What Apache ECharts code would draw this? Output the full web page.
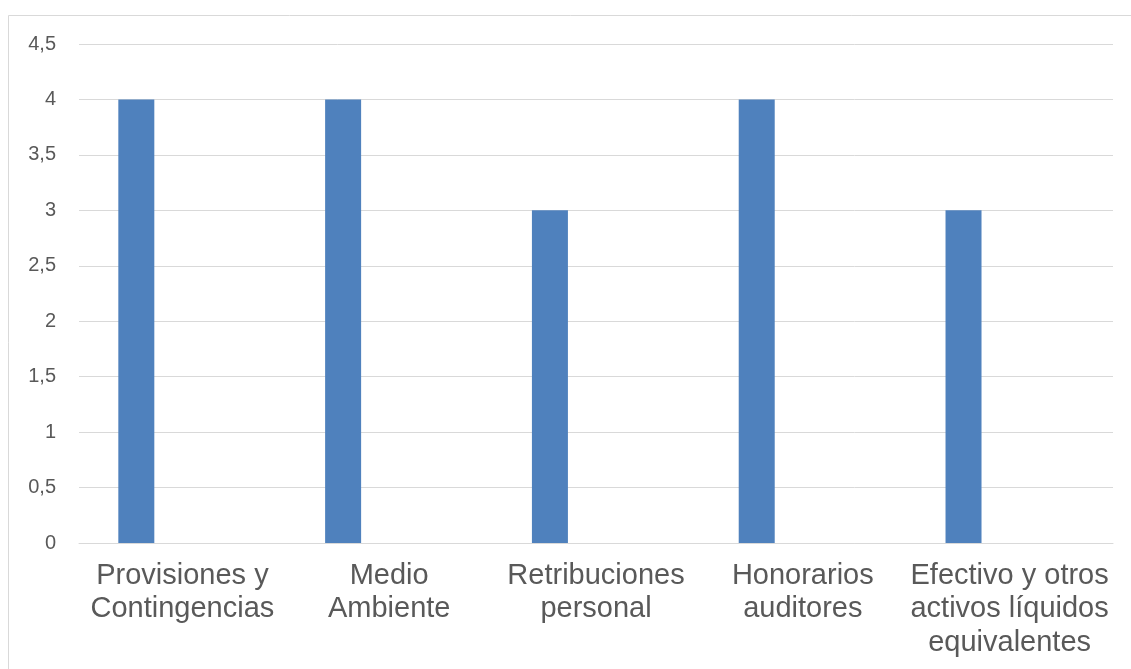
<!DOCTYPE html>
<html>
<head>
<meta charset="utf-8">
<script src="https://cdn.jsdelivr.net/npm/echarts@6/dist/echarts.min.js"></script>
<style>
html,body{margin:0;padding:0;background:#fff;}
#chart{width:1131px;height:669px;}
</style>
</head>
<body>
<div id="chart"></div>
<script>
const categories = [
  'Provisiones y\nContingencias',
  'Medio\nAmbiente',
  'Retribuciones\npersonal',
  'Honorarios\nauditores',
  'Efectivo y otros\nactivos líquidos\nequivalentes'
];
const seriesValues = [4, 4, 3, 4, 3];
const emptySeriesA = [null, null, null, null, null];
const emptySeriesB = [null, null, null, null, null];

const chart = echarts.init(document.getElementById('chart'));
chart.setOption({
  animation: false,
  backgroundColor: '#ffffff',
  graphic: [{
    type: 'rect',
    shape: { x: 8.5, y: 15.5, width: 1140, height: 700 },
    style: { fill: 'none', stroke: '#d9d9d9', lineWidth: 1 },
    silent: true,
    z: -10
  }],
  grid: { left: 79, right: 18, top: 44, bottom: 126, containLabel: false },
  xAxis: {
    type: 'category',
    data: categories,
    axisLine: { show: true, lineStyle: { color: '#d9d9d9', width: 1 } },
    axisTick: { show: false },
    axisLabel: {
      interval: 0,
      margin: 16,
      color: '#595959',
      fontFamily: 'Liberation Sans, Arial, sans-serif',
      fontSize: 29,
      lineHeight: 33.5
    }
  },
  yAxis: {
    type: 'value',
    min: 0,
    max: 4.5,
    interval: 0.5,
    axisLine: { show: false },
    axisTick: { show: false },
    splitLine: { lineStyle: { color: '#d9d9d9', width: 1 } },
    axisLabel: {
      margin: 23,
      color: '#595959',
      fontFamily: 'Liberation Sans, Arial, sans-serif',
      fontSize: 20,
      padding: [3, 0, 0, 0],
      formatter: v => String(v).replace('.', ',')
    }
  },
  series: [
    { type: 'bar', data: seriesValues, barWidth: 36, barGap: '28%', itemStyle: { color: '#4f81bd' } },
    { type: 'bar', data: emptySeriesA, barWidth: 36, barGap: '28%', itemStyle: { color: '#c0504d' } },
    { type: 'bar', data: emptySeriesB, barWidth: 36, barGap: '28%', itemStyle: { color: '#9bbb59' } }
  ]
});
</script>
</body>
</html>
